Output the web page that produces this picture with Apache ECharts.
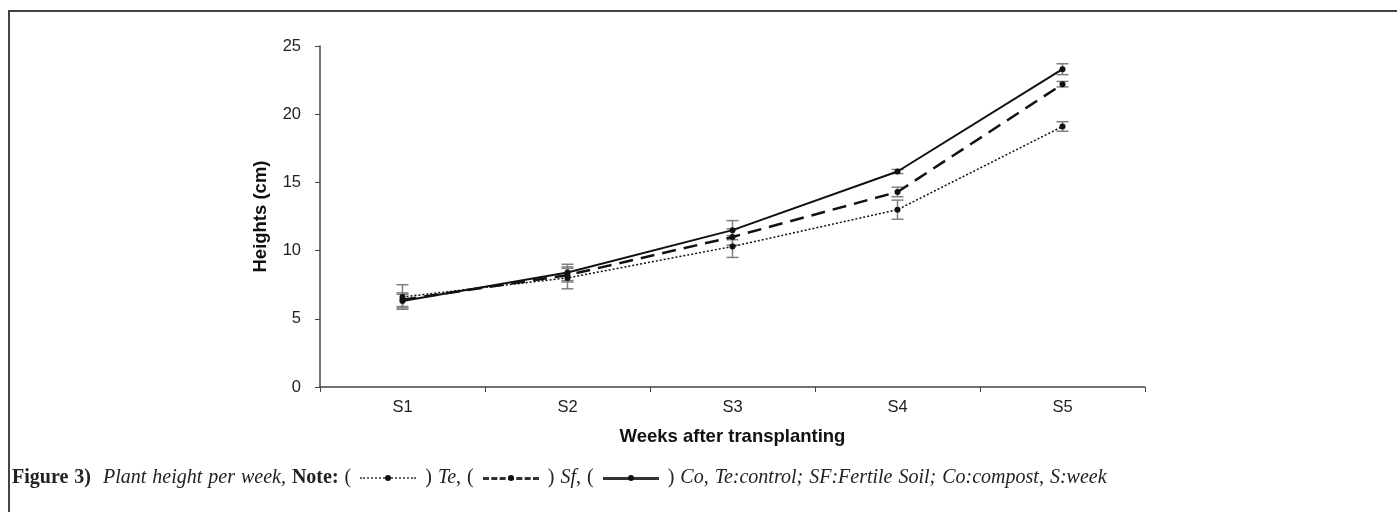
<!DOCTYPE html>
<html>
<head>
<meta charset="utf-8">
<script src="https://cdn.jsdelivr.net/npm/echarts@6/dist/echarts.min.js"></script>
<style>
  html, body { margin:0; padding:0; background:#fff; }
  #wrap { position:relative; width:1397px; height:512px; overflow:hidden; }
  #frame { position:absolute; left:8px; top:10px; right:0; bottom:0; border-top:2px solid #444; border-left:2px solid #444; pointer-events:none; }
  #chart { position:absolute; left:0; top:0; width:1397px; height:512px; }
  #cap { position:absolute; left:12px; top:465px; font-family:"Liberation Serif","DejaVu Serif",serif; font-size:20px; word-spacing:1px; color:#222; white-space:nowrap; }
  #cap b { font-weight:bold; }
  #cap i { font-style:italic; }
  .smp { display:inline-block; position:relative; width:56px; height:10px; vertical-align:middle; margin:0 3px; }
  .smp .ln { position:absolute; left:0; right:0; top:4px; }
  .smp .dt { position:absolute; left:25px; top:2px; width:6px; height:6px; border-radius:3px; background:#111; }
</style>
</head>
<body>
<div id="wrap">
  <div id="chart"></div>
  <div id="frame"></div>
  <div id="cap"><b>Figure 3)</b>&nbsp; <i>Plant height per week,</i> <b>Note:</b> ( <span class="smp"><span class="ln" style="border-top:2px dotted #666"></span><span class="dt"></span></span> ) <i>Te</i>, ( <span class="smp"><span class="ln" style="border-top:3px dashed #333"></span><span class="dt"></span></span> ) <i>Sf</i>, ( <span class="smp"><span class="ln" style="border-top:3px solid #333"></span><span class="dt"></span></span> ) <i>Co, Te:control; SF:Fertile Soil; Co:compost, S:week</i></div>
</div>
<script>
const categories = ['S1','S2','S3','S4','S5'];
const teValues = [6.6, 8.0, 10.3, 13.0, 19.1];
const sfValues = [6.4, 8.2, 11.0, 14.3, 22.2];
const coValues = [6.3, 8.4, 11.5, 15.8, 23.3];
const teErrors = [0.9, 0.8, 0.8, 0.7, 0.35];
const sfErrors = [0.5, 0.5, 0.6, 0.35, 0.2];
const coErrors = [0.5, 0.6, 0.7, 0.15, 0.4];
const yTicks = [0, 5, 10, 15, 20, 25];

const chart = echarts.init(document.getElementById('chart'));
const sans = 'Liberation Sans, Arial, sans-serif';

function errData(vals, errs) {
  return vals.map((v, i) => [i, v - errs[i], v + errs[i]]);
}
function errSeries(vals, errs) {
  return {
    type: 'custom',
    silent: true,
    z: 1,
    renderItem: function (params, api) {
      const x = api.value(0);
      const lo = api.coord([x, api.value(1)]);
      const hi = api.coord([x, api.value(2)]);
      const hw = 6;
      const st = { stroke: '#808080', lineWidth: 1.5 };
      return {
        type: 'group',
        children: [
          { type: 'line', shape: { x1: lo[0], y1: lo[1], x2: hi[0], y2: hi[1] }, style: st },
          { type: 'line', shape: { x1: lo[0] - hw, y1: lo[1], x2: lo[0] + hw, y2: lo[1] }, style: st },
          { type: 'line', shape: { x1: hi[0] - hw, y1: hi[1], x2: hi[0] + hw, y2: hi[1] }, style: st }
        ]
      };
    },
    encode: { x: 0, y: [1, 2] },
    data: errData(vals, errs)
  };
}
function lineSeries(name, vals, type, width) {
  return {
    name: name,
    type: 'line',
    data: vals,
    z: 3,
    symbol: 'circle',
    symbolSize: 6,
    itemStyle: { color: '#111' },
    lineStyle: { color: '#111', width: width, type: type },
    animation: false
  };
}

chart.setOption({
  animation: false,
  grid: { left: 320, right: 252, top: 46, bottom: 125 },
  xAxis: {
    type: 'category',
    data: categories,
    boundaryGap: true,
    name: 'Weeks after transplanting',
    nameLocation: 'middle',
    nameGap: 40,
    nameTextStyle: { fontFamily: sans, fontSize: 18.5, fontWeight: 'bold', color: '#111' },
    axisLine: { lineStyle: { color: '#444', width: 1.5 } },
    axisTick: { show: true, length: 5, lineStyle: { color: '#444' } },
    axisLabel: { fontFamily: sans, fontSize: 16.5, color: '#222', margin: 12 }
  },
  yAxis: {
    type: 'value',
    min: 0, max: 25, interval: 5,
    name: 'Heights (cm)',
    nameLocation: 'middle',
    nameGap: 50,
    nameRotate: 90,
    nameTextStyle: { fontFamily: sans, fontSize: 18.5, fontWeight: 'bold', color: '#111' },
    axisLine: { show: true, lineStyle: { color: '#444', width: 1.5 } },
    axisTick: { show: true, length: 5, lineStyle: { color: '#444' } },
    splitLine: { show: false },
    axisLabel: { fontFamily: sans, fontSize: 16.5, color: '#222', margin: 19,
      formatter: v => yTicks.indexOf(v) >= 0 ? String(v) : '' }
  },
  series: [
    errSeries(teValues, teErrors),
    errSeries(sfValues, sfErrors),
    errSeries(coValues, coErrors),
    lineSeries('Te', teValues, [2, 2], 1.5),
    lineSeries('Sf', sfValues, [14, 8], 2.5),
    lineSeries('Co', coValues, 'solid', 2)
  ]
});
</script>
</body>
</html>
